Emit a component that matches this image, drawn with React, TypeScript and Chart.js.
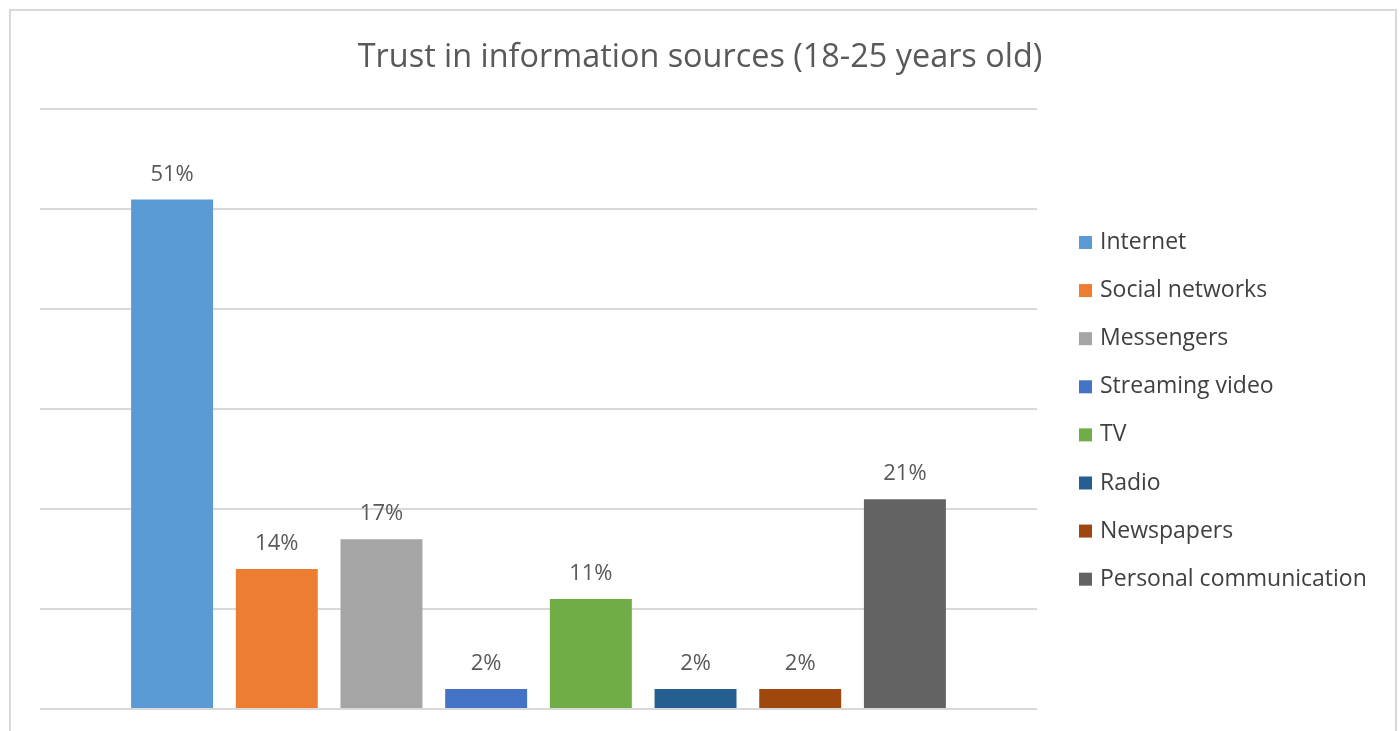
import React, { useEffect, useRef } from "react";
import { Chart, registerables } from "chart.js";

Chart.register(...registerables);

const TITLE = "Trust in information sources (18-25 years old)";
const SOURCES = [
  "Internet",
  "Social networks",
  "Messengers",
  "Streaming video",
  "TV",
  "Radio",
  "Newspapers",
  "Personal communication",
];
const TRUST_VALUES = [51, 14, 17, 2, 11, 2, 2, 21];
const COLORS = [
  "#5B9BD5",
  "#ED7D31",
  "#A5A5A5",
  "#4472C4",
  "#70AD47",
  "#255E91",
  "#9E480E",
  "#636363",
];
const Y_MAX = 60;
const Y_STEP = 10;

const FONT = "'Open Sans', 'Noto Sans', sans-serif";

const labelPlugin = {
  id: "barLabels",
  afterDatasetsDraw(chart: any) {
    const ctx = chart.ctx;
    ctx.save();
    ctx.font = `22px ${FONT}`;
    ctx.fillStyle = "#595959";
    ctx.textAlign = "center";
    ctx.textBaseline = "middle";
    chart.data.datasets.forEach((ds: any, i: number) => {
      const meta = chart.getDatasetMeta(i);
      const bar = meta.data[0];
      if (!bar) return;
      ctx.fillText(`${ds.data[0]}%`, bar.x, bar.y - 25);
    });
    ctx.restore();
  },
};

const legendPlugin = {
  id: "sideLegend",
  afterDraw(chart: any) {
    const ctx = chart.ctx;
    const area = chart.chartArea;
    const x0 = area.right + 42;
    const y0 = area.top + 133;
    const gap = 48.1;
    ctx.save();
    ctx.font = `23px ${FONT}`;
    ctx.textBaseline = "middle";
    ctx.textAlign = "left";
    chart.data.datasets.forEach((ds: any, i: number) => {
      const cy = y0 + i * gap;
      ctx.fillStyle = ds.backgroundColor;
      ctx.fillRect(x0, cy - 6.5, 13, 13);
      ctx.fillStyle = "#404040";
      ctx.fillText(ds.label, x0 + 21, cy);
    });
    ctx.restore();
  },
};

export default function App() {
  const canvasRef = useRef<HTMLCanvasElement | null>(null);

  useEffect(() => {
    const canvas = canvasRef.current;
    if (!canvas) return;
    const chart = new Chart(canvas, {
      type: "bar",
      data: {
        labels: [""],
        datasets: SOURCES.map((name, i) => ({
          label: name,
          data: [TRUST_VALUES[i]],
          backgroundColor: COLORS[i],
          borderWidth: 0,
          categoryPercentage: 0.84,
          barPercentage: 0.783,
        })),
      },
      options: {
        responsive: false,
        animation: false,
        devicePixelRatio: 1,
        layout: {
          padding: { left: 0, right: 0, top: 0, bottom: 22 },
        },
        plugins: {
          legend: { display: false },
          tooltip: { enabled: false },
          title: {
            display: true,
            text: TITLE,
            color: "#595959",
            font: { family: FONT, size: 32.4, weight: "normal" },
            padding: { top: 38, bottom: 32.6 },
          },
        },
        scales: {
          x: { display: false },
          y: {
            position: "left",
            min: 0,
            max: Y_MAX,
            ticks: { display: false, stepSize: Y_STEP },
            border: { display: false },
            grid: { color: "#D9D9D9", lineWidth: 2, drawTicks: false },
            afterFit: (scale: any) => {
              scale.width = 40;
            },
          },
          legendSpace: {
            type: "linear",
            position: "right",
            display: true,
            ticks: { display: false },
            border: { display: false },
            grid: { display: false, drawTicks: false },
            afterFit: (scale: any) => {
              scale.width = 363;
            },
          },
        },
      },
      plugins: [labelPlugin, legendPlugin],
    });
    return () => chart.destroy();
  }, []);

  return (
    <div
      style={{
        position: "fixed",
        left: 0,
        top: 0,
        width: 1400,
        height: 731,
        overflow: "hidden",
        background: "#fff",
      }}
    >
      <div
        style={{
          position: "absolute",
          left: 9,
          top: 9,
          width: 1384,
          height: 800,
          border: "2px solid #D9D9D9",
        }}
      />
      <canvas
        ref={canvasRef}
        width={1400}
        height={731}
        style={{ position: "absolute", left: 0, top: 0, width: 1400, height: 731 }}
      />
    </div>
  );
}
